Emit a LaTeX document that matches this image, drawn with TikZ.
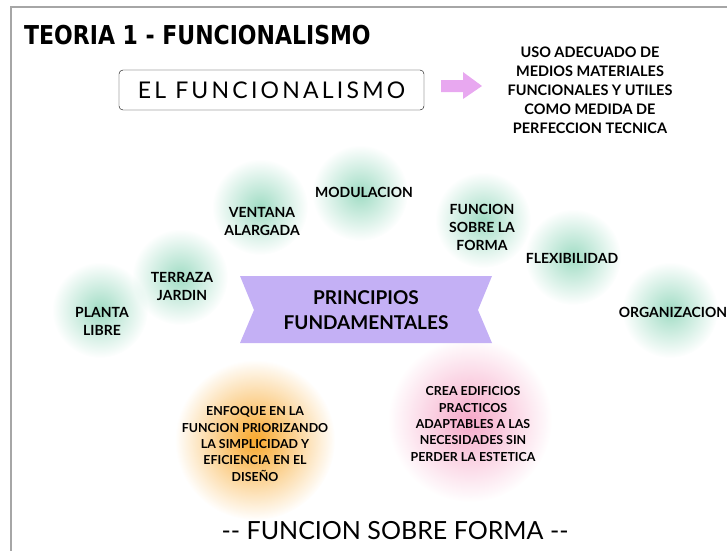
\documentclass[tikz,border=0pt]{standalone}
\usepackage{fontspec}
\setmainfont{Lato}
\newfontfamily\titlefont{DejaVu Sans Condensed}
\newfontfamily\spacedfont[LetterSpace=14]{Lato}
\usetikzlibrary{fadings}

\definecolor{blobgreen}{RGB}{160,220,196}
\definecolor{ribbonlila}{RGB}{196,176,245}
\definecolor{arrowpink}{RGB}{232,168,240}
\definecolor{bloborange}{RGB}{248,168,45}
\definecolor{blobpink}{RGB}{246,168,200}

\tikzfading[name=blobfade, inner color=transparent!0, outer color=transparent!100]

\tikzset{
  blob/.style={path fading=blobfade},
  blobtext/.style={align=center, font=\bfseries\fontsize{14}{18}\selectfont},
  notetext/.style={align=center, font=\bfseries\fontsize{12.4}{16.3}\selectfont},
}

\begin{document}
\begin{tikzpicture}[x=1pt,y=-1pt]
\useasboundingbox (0,0) rectangle (727,550);
\draw[gray!70,line width=2.5pt] (11,552) -- (11,7) -- (729,7);

% blobs
\fill[blobgreen,blob] (100,310) circle (48pt);
\fill[blobgreen,blob] (180,277) circle (48pt);
\fill[blobgreen,blob] (260,207) circle (48pt);
\fill[blobgreen,blob] (360,193) circle (48pt);
\fill[blobgreen,blob] (483,220) circle (48pt);
\fill[blobgreen,blob] (573,257) circle (48pt);
\fill[blobgreen,blob] (670,310) circle (48pt);
\fill[bloborange,blob] (255,440) circle (80pt);
\fill[blobpink,blob] (470,420) circle (82pt);

% title
\node[anchor=west,inner sep=0pt,font=\titlefont\bfseries\fontsize{26}{26}\selectfont] (title) at (24,35) {\scalebox{0.94}[1]{TEORIA 1 - FUNCIONALISMO}};

% top row
\node[draw,rounded corners=4pt,minimum width=305pt,minimum height=40pt,font=\spacedfont\fontsize{23}{23}\selectfont] (funcionalismo) at (271.5,90) {EL FUNCIONALISMO};
\fill[arrowpink] (441,80) -- (463,80) -- (463,72) -- (482,86) -- (463,99) -- (463,92) -- (441,92) -- cycle;
\node[align=center,font=\bfseries\fontsize{14.5}{19}\selectfont] (uso) at (590,90) {USO ADECUADO DE\\MEDIOS MATERIALES\\FUNCIONALES Y UTILES\\COMO MEDIDA DE\\PERFECCION TECNICA};

% ribbon
\fill[ribbonlila] (240,276) -- (492,276) -- (478,310) -- (492,343) -- (240,343) -- (254,310) -- cycle;
\node[align=center,font=\bfseries\fontsize{19}{25}\selectfont] (principios) at (366,310) {PRINCIPIOS\\FUNDAMENTALES};

% principles
\node[blobtext] (planta) at (102,321) {PLANTA\\LIBRE};
\node[blobtext] (terraza) at (182,286) {TERRAZA\\JARDIN};
\node[blobtext] (ventana) at (262,221) {VENTANA\\ALARGADA};
\node[blobtext] (modulacion) at (364,192) {MODULACION};
\node[blobtext] (funcion) at (482,227) {FUNCION\\SOBRE LA\\FORMA};
\node[blobtext] (flexibilidad) at (572,258) {FLEXIBILIDAD};
\node[blobtext] (organizacion) at (673,312) {ORGANIZACION};

% notes
\node[notetext] (enfoque) at (255,444) {ENFOQUE EN LA\\FUNCION PRIORIZANDO\\LA SIMPLICIDAD Y\\EFICIENCIA EN EL\\DISEÑO};
\node[notetext] (crea) at (473,424) {CREA EDIFICIOS\\PRACTICOS\\ADAPTABLES A LAS\\NECESIDADES SIN\\PERDER LA ESTETICA};

\node[font=\fontsize{25}{25}\selectfont] (lema) at (395,531) {-{}- FUNCION SOBRE FORMA -{}-};
\end{tikzpicture}
\end{document}
